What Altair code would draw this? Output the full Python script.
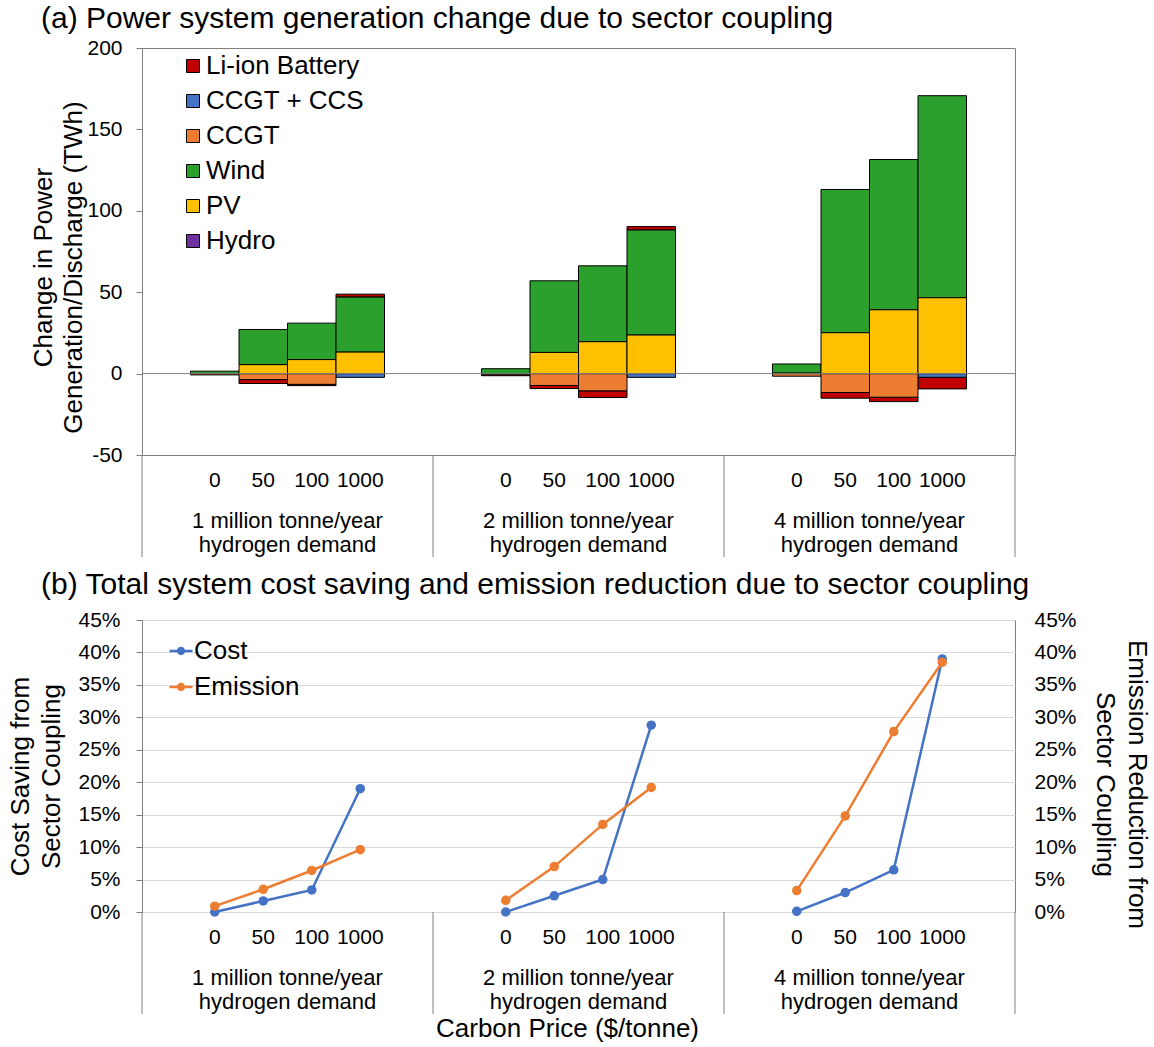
import altair as alt
import pandas as pd

FONT = "Liberation Sans"
INK = "#000000"
FRAME = "#808080"

# ---- shared category structure -------------------------------------------
prices = ["0", "50", "100", "1000"]
demand_groups = [
    "1 million tonne/year\nhydrogen demand",
    "2 million tonne/year\nhydrogen demand",
    "4 million tonne/year\nhydrogen demand",
]
SLOTS = 6  # one empty slot either side of the four carbon prices

# ---- (a) change in generation / discharge, TWh ---------------------------
techs = ["Li-ion Battery", "CCGT + CCS", "CCGT", "Wind", "PV", "Hydro"]
tech_colors = ["#c00000", "#4472c4", "#ed7d31", "#2ca02c", "#ffc000", "#7030a0"]
# stacking rank, counted outward from the zero line
tech_rank = [5, 1, 2, 4, 3, 0]

# rows: demand group; columns: carbon price 0 / 50 / 100 / 1000 $/t
battery = [[0.0, -2.4, -0.8, 1.8], [-0.6, -1.9, -4.1, 2.1], [0.0, -3.5, -2.7, -7.1]]
ccgt_ccs = [[0.0, 0.0, 0.0, -2.3], [0.0, 0.0, 0.0, -2.3], [0.0, 0.0, 0.0, -2.3]]
ccgt = [[-0.8, -3.7, -6.6, 0.0], [-0.7, -7.3, -10.6, 0.0], [-1.6, -11.6, -14.5, 0.0]]
wind = [[1.5, 21.6, 22.4, 33.8], [3.0, 44.0, 46.6, 64.5], [5.6, 88.0, 92.3, 124.1]]
pv = [[0.0, 5.5, 8.6, 13.2], [0.0, 13.0, 19.6, 23.7], [0.3, 25.1, 39.2, 46.6]]
hydro = [[0.0, 0.0, 0.0, 0.0], [0.0, 0.0, 0.0, 0.0], [0.0, 0.0, 0.0, 0.0]]

# ---- (b) cost saving and emission reduction, % ---------------------------
series_names = ["Cost", "Emission"]
series_colors = ["#4472c4", "#ed7d31"]
cost_saving = [[0.0, 1.7, 3.4, 19.0], [0.0, 2.5, 5.0, 28.8], [0.1, 3.0, 6.5, 39.0]]
emission_cut = [[0.9, 3.5, 6.4, 9.6], [1.8, 7.0, 13.5, 19.2], [3.3, 14.8, 27.8, 38.5]]


def slot(g, p):
    return g * SLOTS + 1 + p


tech_series = dict(zip(techs, [battery, ccgt_ccs, ccgt, wind, pv, hydro]))
gen_rows = []
for tech, rank in zip(techs, tech_rank):
    for g in range(len(demand_groups)):
        for p in range(len(prices)):
            v = tech_series[tech][g][p]
            if v != 0:
                s = slot(g, p)
                gen_rows.append(dict(tech=tech, rank=rank, slot=s, x0=s, x1=s + 1, twh=v))
gen = pd.DataFrame(gen_rows)

tick_df = pd.DataFrame(
    [dict(xc=slot(g, p) + 0.5, label=prices[p]) for g in range(3) for p in range(4)]
)
group_df = pd.DataFrame([dict(xc=g * SLOTS + SLOTS / 2, label=demand_groups[g]) for g in range(3)])
sep_df = pd.DataFrame(dict(x=[g * SLOTS for g in range(4)]))

pts_rows = []
for name, vals in zip(series_names, [cost_saving, emission_cut]):
    for g in range(3):
        for p in range(4):
            pts_rows.append(dict(series=name, group=g, xc=slot(g, p) + 0.5, pct=vals[g][p]))
pts = pd.DataFrame(pts_rows)

W, HA, HB = 873, 407, 292
xs = alt.Scale(domain=[0, 3 * SLOTS], nice=False, zero=False)


def category_axis(height, x_axis):
    """Carbon-price labels, demand-group labels and group separators under a panel."""
    ticks = alt.Chart(tick_df).mark_text(fontSize=21, baseline="middle", color=INK).encode(
        x=alt.X("xc:Q", scale=xs, axis=x_axis), y=alt.value(height + 26), text="label:N"
    )
    groups = alt.Chart(group_df).mark_text(
        fontSize=22, baseline="top", lineBreak="\n", lineHeight=24, color=INK
    ).encode(x=alt.X("xc:Q", scale=xs, axis=x_axis), y=alt.value(height + 56), text="label:N")
    seps = alt.Chart(sep_df).mark_rule(color=FRAME, strokeWidth=1).encode(
        x=alt.X("x:Q", scale=xs, axis=x_axis), y=alt.value(height), y2=alt.value(height + 102)
    )
    return [ticks, groups, seps]


# ---- panel (a) -----------------------------------------------------------
ya = alt.Scale(domain=[-50, 200], nice=False, zero=False)
ya_axis = alt.Axis(
    values=[-50, 0, 50, 100, 150, 200],
    labelExpr="'' + datum.value",
    grid=False,
    labelFontSize=21,
    labelPadding=14,
    tickSize=6,
    title=["Change in Power", "Generation/Discharge (TWh)"],
    titleFontSize=26,
    titleLineHeight=30,
    titleAngle=270,
    titleAlign="center",
    titleBaseline="top",
    titleX=-112,
    titleY=219,
)
bars = (
    alt.Chart(gen)
    .transform_stack(
        stack="twh",
        groupby=["slot"],
        as_=["y0", "y1"],
        sort=[alt.SortField("rank", order="ascending")],
        offset="zero",
    )
    .mark_bar(stroke="black", strokeWidth=1)
    .encode(
        x=alt.X("x0:Q", scale=xs, axis=None),
        x2="x1:Q",
        y=alt.Y("y0:Q", scale=ya, axis=ya_axis),
        y2="y1:Q",
        color=alt.Color(
            "tech:N",
            scale=alt.Scale(domain=techs, range=tech_colors),
            legend=alt.Legend(
                title=None,
                orient="none",
                legendX=38,
                legendY=5,
                symbolType="square",
                symbolSize=169,
                symbolStrokeColor="black",
                symbolStrokeWidth=1,
                labelFontSize=26,
                labelOffset=0,
                rowPadding=9,
                padding=0,
            ),
        ),
    )
)
zero_line = alt.Chart(pd.DataFrame(dict(v=[0]))).mark_rule(color=FRAME, strokeWidth=1).encode(
    y=alt.Y("v:Q", scale=ya, axis=ya_axis)
)

panel_a = alt.layer(bars, zero_line, *category_axis(HA, None)).properties(
    width=W,
    height=HA,
    title=alt.TitleParams(
        "(a) Power system generation change due to sector coupling",
        anchor="start",
        frame="group",
        dx=-101,
        fontSize=30,
        fontWeight="normal",
        color=INK,
        offset=3,
    ),
)

# ---- panel (b) -----------------------------------------------------------
yb = alt.Scale(domain=[0, 45], nice=False, zero=False)
pct_values = list(range(0, 50, 5))
series_scale = alt.Scale(domain=series_names, range=series_colors)
# legend glyph: short line with a dot in the middle
line_dot = (
    "M-1,-0.11H-0.33V0.11H-1Z M0.33,-0.11H1V0.11H0.33Z "
    "M0.36,0A0.36,0.36,0,1,1,-0.36,0A0.36,0.36,0,1,1,0.36,0Z"
)
series_legend = alt.Legend(
    title=None,
    orient="none",
    legendX=26,
    legendY=18,
    symbolType=line_dot,
    symbolSize=529,
    symbolStrokeWidth=0,
    labelFontSize=26,
    labelOffset=0,
    rowPadding=10,
    padding=0,
)
x_b_axis = alt.Axis(
    labels=False,
    ticks=False,
    domain=False,
    grid=False,
    title="Carbon Price ($/tonne)",
    titleFontSize=26,
    titleX=425,
    titleY=116,
    titleAlign="center",
    titleBaseline="middle",
)

left_axis = alt.Axis(
    values=pct_values,
    labelExpr="datum.value + '%'",
    grid=True,
    gridColor="#d9d9d9",
    labelFontSize=21,
    labelPadding=16,
    tickSize=6,
    title=["Cost Saving from", "Sector Coupling"],
    titleFontSize=26,
    titleLineHeight=31,
    titleAngle=270,
    titleAlign="center",
    titleBaseline="top",
    titleX=-135,
    titleY=156,
)
right_axis = alt.Axis(
    orient="right",
    values=pct_values,
    labelExpr="datum.value + '%'",
    grid=False,
    ticks=False,
    tickSize=0,
    domain=False,
    labelAlign="left",
    labelFontSize=21,
    labelPadding=19,
    title=["Emission Reduction from", "Sector Coupling"],
    titleFontSize=26,
    titleLineHeight=32,
    titleAngle=90,
    titleAlign="center",
    titleBaseline="top",
    titleX=134,
    titleY=164,
)


def series_layers(i, y_axis):
    name = series_names[i]
    base = alt.Chart(pts).transform_filter(alt.datum.series == name)
    line = base.mark_line(strokeWidth=2.5, color=series_colors[i]).encode(
        x=alt.X("xc:Q", scale=xs, axis=x_b_axis),
        y=alt.Y("pct:Q", scale=yb, axis=y_axis),
        detail="group:N",
    )
    dots = base.mark_circle(size=90, opacity=1).encode(
        x=alt.X("xc:Q", scale=xs, axis=x_b_axis),
        y=alt.Y("pct:Q", scale=yb, axis=y_axis),
        fill=alt.Fill("series:N", scale=series_scale, legend=series_legend),
    )
    return line, dots


cost_line, cost_dots = series_layers(0, left_axis)
em_line, em_dots = series_layers(1, right_axis)

panel_b = (
    alt.layer(
        alt.layer(*category_axis(HB, x_b_axis), cost_line, cost_dots),
        alt.layer(em_line, em_dots),
    )
    .resolve_scale(y="independent")
    .properties(
        width=W,
        height=HB,
        title=alt.TitleParams(
            "(b) Total system cost saving and emission reduction due to sector coupling",
            anchor="start",
            frame="group",
            dx=-101,
            fontSize=30,
            fontWeight="normal",
            color=INK,
            offset=9,
        ),
    )
)

chart = (
    alt.vconcat(panel_a, panel_b, spacing=165, bounds="flush")
    .resolve_scale(color="independent", fill="independent")
    .resolve_legend(color="independent", fill="independent")
    .configure(font=FONT, padding={"left": 6, "top": 3, "right": 4, "bottom": 4})
    .configure_view(stroke=FRAME, strokeWidth=1)
    .configure_axis(
        labelColor=INK,
        titleColor=INK,
        titleFontWeight="normal",
        domainColor=FRAME,
        tickColor=FRAME,
    )
    .configure_legend(labelColor=INK)
)

chart.save("out.html", embed_options={"renderer": "svg", "actions": False})
